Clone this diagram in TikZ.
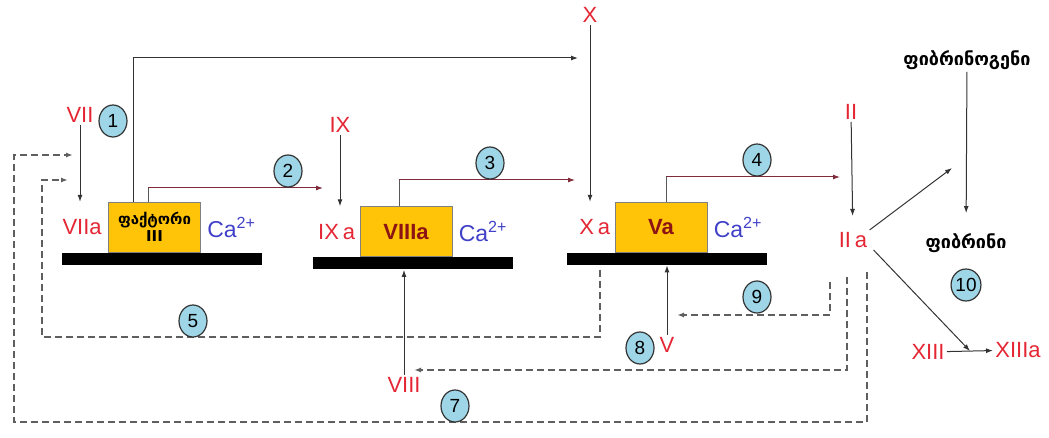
\documentclass[tikz,border=0pt]{standalone}
\usepackage{fontspec}
\setmainfont{Liberation Sans}
\newfontfamily\geofont{DejaVu Sans}
\usepackage{xcolor}
\usetikzlibrary{positioning,arrows.meta,shapes.geometric,calc}
\definecolor{factred}{RGB}{228,38,52}
\definecolor{cablue}{RGB}{64,64,200}
\definecolor{boxgold}{RGB}{255,196,8}
\definecolor{boxtext}{RGB}{140,20,20}
\definecolor{bubble}{RGB}{158,214,232}
\definecolor{linkred}{RGB}{128,42,58}
\definecolor{dashgray}{RGB}{95,95,95}

\begin{document}
\begin{tikzpicture}[
  x=0.5pt, y=-0.5pt,
  font=\fontsize{11}{13}\selectfont,
  fact/.style={text=factred, inner sep=1pt},
  ion/.style={text=cablue, font=\fontsize{11.5}{13}\selectfont, inner sep=1pt},
  geo/.style={font=\geofont\fontsize{9}{11}\selectfont\bfseries, inner sep=1pt},
  enzyme/.style={draw=gray, fill=boxgold, minimum width=46pt, minimum height=25pt, inner sep=1pt, align=center, text=boxtext, font=\fontsize{11}{12}\selectfont\bfseries},
  membrane/.style={fill=black, minimum width=100pt, minimum height=6pt, inner sep=0pt},
  stepnum/.style={ellipse, draw=black!80, line width=0.6pt, fill=bubble, minimum width=14pt, minimum height=16pt, inner sep=0pt, font=\fontsize{9.5}{10}\selectfont},
  arr/.style={-{Latex[length=3.5pt,width=2.5pt]}, black!80, line width=0.5pt},
  fb/.style={arr, draw=dashgray, dash pattern=on 3.5pt off 2pt, line width=0.8pt}]
\useasboundingbox (0,0) rectangle (1049,438);

% membranes and complexes
\node[membrane] (m1) at (162,259) {};
\node[membrane] (m2) at (413,263.5) {};
\node[membrane] (m3) at (667,259) {};
\node[enzyme, above=0pt of m1, xshift=-3.75pt, text=black, font=\geofont\fontsize{7.5}{8.5}\selectfont\bfseries] (f3) {ფაქტორი\\III};
\node[enzyme, above=0pt of m2, xshift=-3.5pt] (f8) {VIIIa};
\node[enzyme, above=0pt of m3, xshift=-3pt] (f5) {Va};

% factors
\node[fact, left=2pt of f3] (VIIa) {VIIa};
\node[fact, left=1pt of f8] (IXa) {IX\hspace{2pt}a};
\node[fact, left=1pt of f5] (Xa) {X\hspace{2pt}a};
\node[ion, right=2pt of f3] (ca1) {Ca\textsuperscript{2+}};
\node[ion, right=2pt of f8] (ca2) {Ca\textsuperscript{2+}};
\node[ion, right=2pt of f5] (ca3) {Ca\textsuperscript{2+}};
\node[fact] (VII) at (80,115) {VII};
\node[fact] (IX) at (340,125) {IX};
\node[fact] (X) at (590,15) {X};
\node[fact] (II) at (851,112) {II};
\node[fact] (IIa) at (853,240) {II\hspace{2pt}a};
\node[fact] (V) at (667,345) {V};
\node[fact] (VIII) at (404,385) {VIII};
\node[fact] (XIII) at (928,352) {XIII};
\node[fact] (XIIIa) at (1018,350) {XIIIa};
\node[geo] (fbg) at (967,60) {ფიბრინოგენი};
\node[geo] (fbn) at (966,243) {ფიბრინი};

% activation arrows
\draw[arr] (VII) -- (VII |- f3.north);
\draw[arr] (IX) -- (IX |- f8.north);
\draw[arr] (X) -- (X |- f5.north);
\draw[arr, shorten >=7pt] (II) -- (IIa);
\draw[arr, shorten >=9pt] (fbg) -- (fbn);
\coordinate (cat) at (952,168);
\draw[arr] (IIa.north east) -- (cat);
\coordinate (cat2) at ($(XIII.east)!0.5!(XIIIa.west)$);
\draw[arr] (XIII) -- (XIIIa);
\draw[arr] ([xshift=2pt]IIa.south east) -- (cat2);
\draw[arr] (VIII) -- (VIII |- m2.south);
\draw[arr] (V) -- (V |- m3.south);

% complex products
\coordinate (t1) at (578,58);
\coordinate (t2) at (323,188);
\coordinate (t3) at (575,180);
\coordinate (t4) at (840,177);
\draw[arr] ([xshift=12.5pt]f3.north west) |- (t1);
\draw[arr, draw=linkred] ([xshift=20pt]f3.north west) |- (t2);
\draw[gray!70!black] ([xshift=20pt]f3.north west) -- ([xshift=20pt]f3.north west |- t2);
\draw[arr, draw=linkred] ([xshift=20pt]f8.north west) |- (t3);
\draw[gray!70!black] ([xshift=20pt]f8.north west) -- ([xshift=20pt]f8.north west |- t3);
\draw[arr, draw=linkred] ([xshift=26pt]f5.north west) |- (t4);
\draw[gray!70!black] ([xshift=26pt]f5.north west) -- ([xshift=26pt]f5.north west |- t4);

% feedback loops
\coordinate (s5) at (600,270);
\coordinate (k5) at (42,337);
\coordinate (r5) at (68,180);
\draw[fb] (s5) |- (k5) |- (r5);
\coordinate (s7) at (867,272);
\coordinate (k7) at (14,422);
\coordinate (r7) at (73,155);
\draw[fb] (s7) |- (k7) |- (r7);
\coordinate (s8) at (847,277);
\coordinate (r8) at (414,370);
\draw[fb] (s8) |- (r8);
\coordinate (s9) at (830,282);
\coordinate (r9) at (677,315);
\draw[fb] (s9) |- (r9);

% step numbers
\node[stepnum] (n1) at (113,121) {1};
\node[stepnum] (n2) at (288,171) {2};
\node[stepnum] (n3) at (490,163) {3};
\node[stepnum] (n4) at (757,160) {4};
\node[stepnum] (n5) at (193,321) {5};
\node[stepnum] (n7) at (455,406) {7};
\node[stepnum] (n8) at (640,348) {8};
\node[stepnum] (n9) at (757,297) {9};
\node[stepnum] (n10) at (966,285) {10};
\end{tikzpicture}
\end{document}
